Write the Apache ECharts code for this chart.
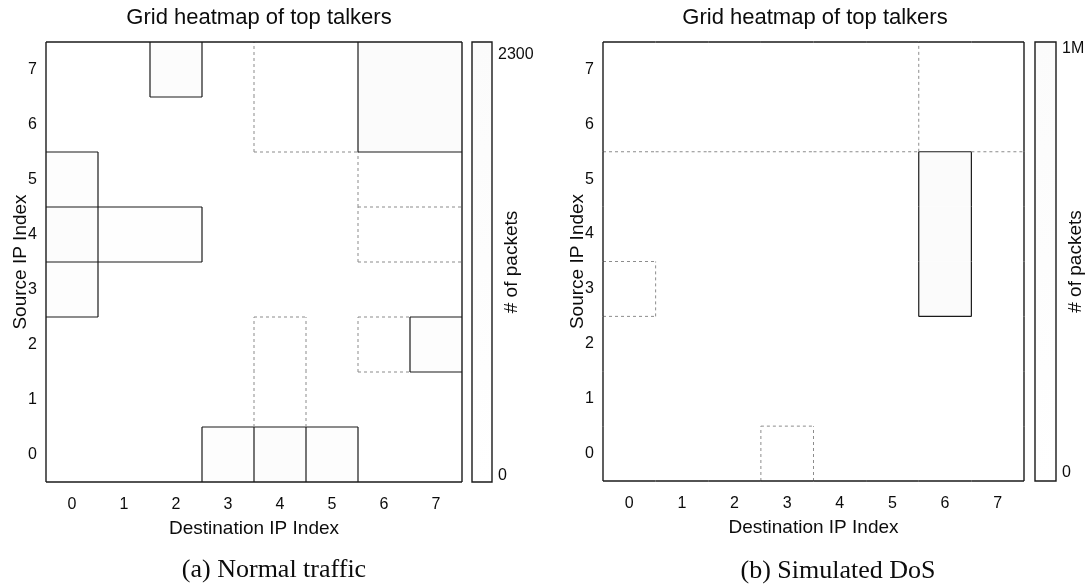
<!DOCTYPE html>
<html>
<head>
<meta charset="utf-8">
<script src="https://cdn.jsdelivr.net/npm/echarts@6/dist/echarts.min.js"></script>
<style>
  html, body { margin: 0; padding: 0; background: #ffffff; }
  #main { width: 1087px; height: 584px; }
</style>
</head>
<body>
<div id="main"></div>
<script>
// Axis categories (destination on x, source on y)
const dstLabels = ['0', '1', '2', '3', '4', '5', '6', '7'];
const srcLabels = ['0', '1', '2', '3', '4', '5', '6', '7'];

// Packet counts, one row per source IP index (row 0 = source 0), columns = destination 0..7
const normalPackets = [
  [0,    0,   0,    1200, 1600, 1100, 0,    0],
  [0,    0,   0,    0,    250,  0,    0,    0],
  [0,    0,   0,    0,    250,  0,    120,  1300],
  [1000, 0,   0,    0,    0,    0,    0,    0],
  [1500, 700, 700,  0,    0,    0,    200,  200],
  [900,  0,   0,    0,    0,    0,    280,  280],
  [0,    0,   0,    0,    150,  150,  2300, 2300],
  [0,    0,   1800, 0,    150,  150,  2300, 2300]
];
const dosPackets = [
  [0,     0,     0,     15000, 0,     0,     0,       0],
  [0,     0,     0,     0,     0,     0,     0,       0],
  [0,     0,     0,     0,     0,     0,     0,       0],
  [20000, 0,     0,     0,     0,     0,     1000000, 0],
  [0,     0,     0,     0,     0,     0,     1000000, 0],
  [0,     0,     0,     0,     0,     0,     1000000, 0],
  [30000, 30000, 30000, 30000, 30000, 30000, 15000,   15000],
  [30000, 30000, 30000, 30000, 30000, 30000, 15000,   15000]
];

// Colour scale limits and the labelled colorbar ticks
const normalMax = 2300;
const dosMax = 1000000;
const normalBarTicks = [0, 2300];
const dosBarTicks = [0, 1000000];

const titleText = 'Grid heatmap of top talkers';
const captions = ['(a) Normal traffic', '(b) Simulated DoS'];

const SANS = '"Liberation Sans", Arial, sans-serif';
const SERIF = '"Liberation Serif", "Times New Roman", serif';
const INK = '#0c0c0c';
const FRAME = { stroke: '#1a1a1a', lineWidth: 1.4 };

function toCells(matrix) {
  const cells = [];
  matrix.forEach((row, y) => row.forEach((v, x) => cells.push([x, y, v])));
  return cells;
}

// Near-white grey ramp used for the cell fill
function shade(v, max) {
  const g = Math.round(255 - 4 * Math.max(0, Math.min(1, v / max)));
  return 'rgb(' + g + ',' + g + ',' + g + ')';
}

// Edge style between two neighbouring cells: solid where the counts differ a lot,
// dashed where they differ a little, nothing where they are equal
function edgeStyle(a, b, max) {
  const d = Math.abs(a - b);
  if (d >= 0.15 * max) return { stroke: '#1a1a1a', lineWidth: 1.2 };
  if (d >= 0.01 * max) return { stroke: '#8c8c8c', lineWidth: 1, lineDash: [3, 3] };
  return null;
}

function cellRenderer(matrix, max) {
  const nRows = matrix.length;
  return function (params, api) {
    const x = api.value(0), y = api.value(1), v = api.value(2);
    const nCols = matrix[y].length;
    const c = api.coord([x, y]);
    const s = api.size([1, 1]);
    const x0 = c[0] - s[0] / 2, x1 = c[0] + s[0] / 2;
    const y0 = c[1] + s[1] / 2, y1 = c[1] - s[1] / 2;
    const children = [{
      type: 'rect',
      shape: { x: x0, y: y1, width: s[0], height: s[1] },
      style: { fill: shade(v, max) },
      z2: 0
    }];
    const edge = (ax, ay, bx, by, st) =>
      children.push({ type: 'line', shape: { x1: ax, y1: ay, x2: bx, y2: by }, style: st, z2: 2 });
    if (x + 1 < nCols) {
      const st = edgeStyle(v, matrix[y][x + 1], max);
      if (st) edge(x1, y0, x1, y1, st);
    }
    if (y + 1 < nRows) {
      const st = edgeStyle(v, matrix[y + 1][x], max);
      if (st) edge(x0, y1, x1, y1, st);
    }
    // outer frame of the map
    if (x === 0) edge(x0, y0, x0, y1, FRAME);
    if (x === nCols - 1) edge(x1, y0, x1, y1, FRAME);
    if (y === 0) edge(x0, y0, x1, y0, FRAME);
    if (y === nRows - 1) edge(x0, y1, x1, y1, FRAME);
    return { type: 'group', children: children };
  };
}

// Colorbar strip: fills the whole axis extent with the same ramp as the cells
function barRenderer(max, lo, hi) {
  return function (params, api) {
    const top = api.coord([0, hi]);
    const bottom = api.coord([0, lo]);
    const s = api.size([1, 1]);
    return {
      type: 'rect',
      shape: { x: top[0] - s[0] / 2, y: top[1], width: s[0], height: bottom[1] - top[1] },
      style: {
        fill: new echarts.graphic.LinearGradient(0, 0, 0, 1, [
          { offset: 0, color: shade(hi, max) },
          { offset: 1, color: shade(lo, max) }
        ]),
        stroke: FRAME.stroke,
        lineWidth: FRAME.lineWidth
      }
    };
  };
}

const tickFont = { fontFamily: SANS, fontSize: 16, color: INK };
const nameFont = { fontFamily: SANS, fontSize: 19, color: INK };

function heatAxes(gridIndex) {
  return {
    x: {
      type: 'category', gridIndex: gridIndex, data: dstLabels,
      axisLine: { show: false }, axisTick: { show: false }, splitLine: { show: false },
      axisLabel: Object.assign({ margin: 15 }, tickFont),
      name: 'Destination IP Index', nameLocation: 'middle', nameGap: 37, nameMoveOverlap: false,
      nameTextStyle: nameFont
    },
    y: {
      type: 'category', gridIndex: gridIndex, data: srcLabels,
      axisLine: { show: false }, axisTick: { show: false }, splitLine: { show: false },
      axisLabel: Object.assign({ margin: 9 }, tickFont),
      name: 'Source IP Index', nameLocation: 'middle', nameGap: 16, nameRotate: 90, nameMoveOverlap: false,
      nameTextStyle: nameFont
    }
  };
}

function barAxes(gridIndex, ticks, lo, hi, fmt) {
  return {
    x: {
      type: 'category', gridIndex: gridIndex, data: [''],
      axisLine: { show: false }, axisTick: { show: false }, axisLabel: { show: false }
    },
    y: {
      type: 'value', gridIndex: gridIndex, position: 'right', min: lo, max: hi,
      axisLine: { show: false }, axisTick: { show: false }, splitLine: { show: false },
      axisLabel: Object.assign({ margin: 6, customValues: ticks, formatter: fmt }, tickFont),
      name: '# of packets', nameLocation: 'middle', nameGap: 10, nameRotate: 90, nameMoveOverlap: false,
      nameTextStyle: nameFont
    }
  };
}

const barRangeA = [-34, 2366];
const barRangeB = [-20000, 1015000];

const hA = heatAxes(0), hB = heatAxes(1);
const bA = barAxes(2, normalBarTicks, barRangeA[0], barRangeA[1], v => String(v));
const bB = barAxes(3, dosBarTicks, barRangeB[0], barRangeB[1], v => (v >= 1000000 ? (v / 1000000) + 'M' : String(v)));

const gridStyle = {
  show: false, containLabel: false, outerBoundsMode: 'none'
};

const option = {
  backgroundColor: '#ffffff',
  animation: false,
  grid: [
    Object.assign({ left: 46, top: 42, width: 416, height: 440 }, gridStyle),
    Object.assign({ left: 603, top: 42, width: 421, height: 439 }, gridStyle),
    Object.assign({ left: 472, top: 42, width: 20, height: 440 }, gridStyle),
    Object.assign({ left: 1035, top: 42, width: 21, height: 439 }, gridStyle)
  ],
  xAxis: [hA.x, hB.x, bA.x, bB.x],
  yAxis: [hA.y, hB.y, bA.y, bB.y],
  series: [
    { type: 'custom', xAxisIndex: 0, yAxisIndex: 0, data: toCells(normalPackets),
      renderItem: cellRenderer(normalPackets, normalMax), silent: true },
    { type: 'custom', xAxisIndex: 1, yAxisIndex: 1, data: toCells(dosPackets),
      renderItem: cellRenderer(dosPackets, dosMax), silent: true },
    { type: 'custom', xAxisIndex: 2, yAxisIndex: 2, data: [[0, normalMax]],
      renderItem: barRenderer(normalMax, barRangeA[0], barRangeA[1]), silent: true },
    { type: 'custom', xAxisIndex: 3, yAxisIndex: 3, data: [[0, dosMax]],
      renderItem: barRenderer(dosMax, barRangeB[0], barRangeB[1]), silent: true }
  ],
  graphic: [
    { type: 'text', x: 259, y: 18, style: { text: titleText, fontFamily: SANS, fontSize: 22, fill: INK, textAlign: 'center', textVerticalAlign: 'middle' } },
    { type: 'text', x: 815, y: 18, style: { text: titleText, fontFamily: SANS, fontSize: 22, fill: INK, textAlign: 'center', textVerticalAlign: 'middle' } },
    { type: 'text', x: 274, y: 570, style: { text: captions[0], fontFamily: SERIF, fontSize: 26, fill: INK, textAlign: 'center', textVerticalAlign: 'middle' } },
    { type: 'text', x: 838, y: 571, style: { text: captions[1], fontFamily: SERIF, fontSize: 26, fill: INK, textAlign: 'center', textVerticalAlign: 'middle' } }
  ]
};

const chart = echarts.init(document.getElementById('main'), null, { renderer: 'canvas' });
chart.setOption(option);
</script>
</body>
</html>
